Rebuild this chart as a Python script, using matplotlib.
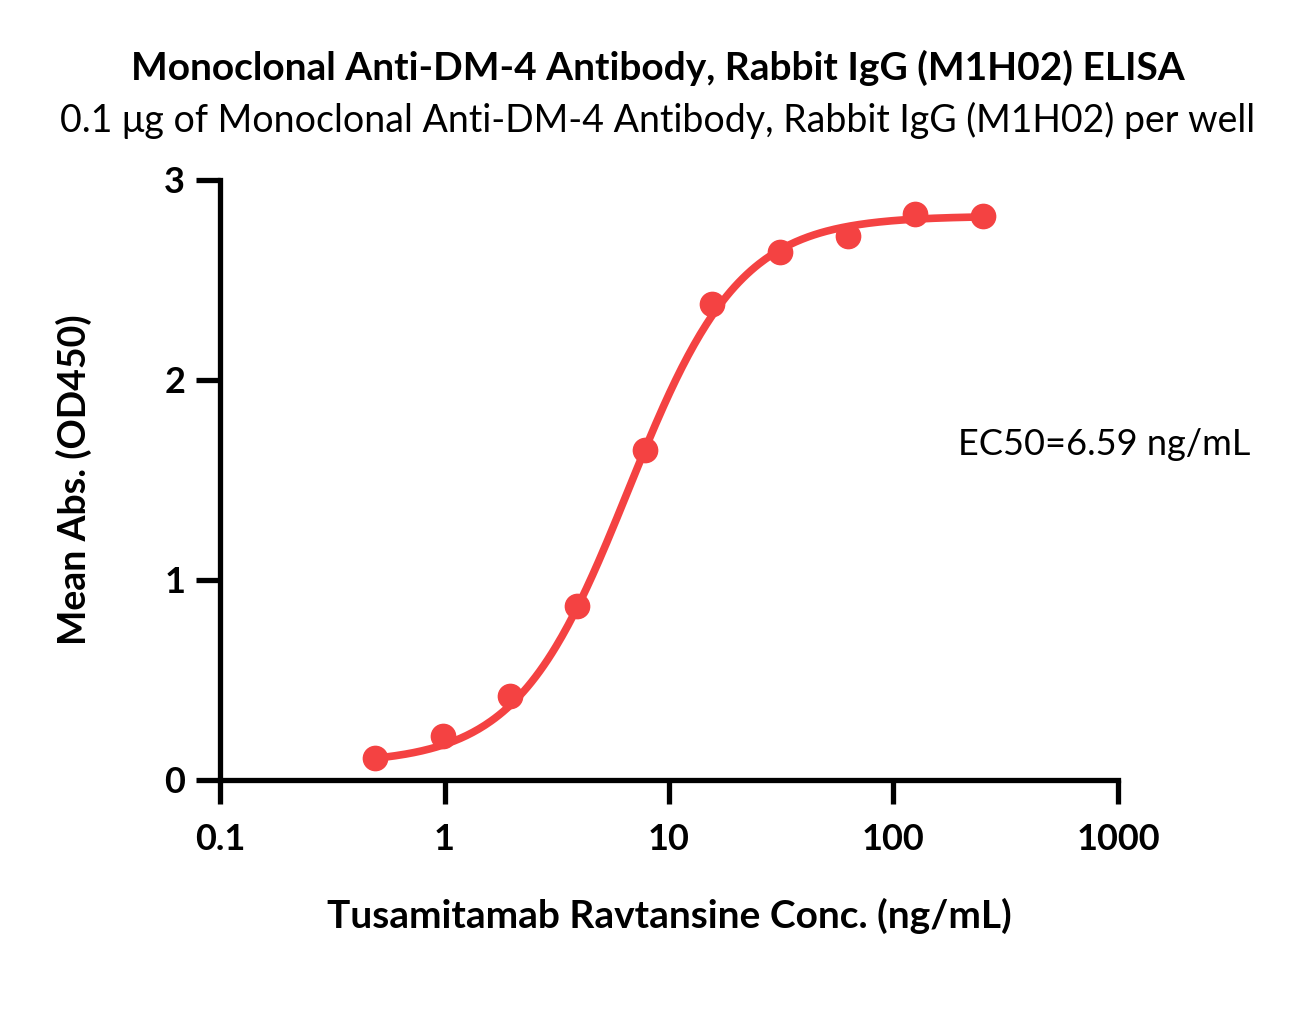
import numpy as np
import matplotlib

matplotlib.use("Agg")
import matplotlib.pyplot as plt

# measured points (ng/mL, OD450)
conc = [0.49, 0.98, 1.95, 3.9, 7.8, 15.6, 31.25, 62.5, 125, 250]
od450 = [0.11, 0.22, 0.42, 0.87, 1.65, 2.38, 2.64, 2.72, 2.83, 2.82]

# 4PL fit parameters
fit_bottom = 0.08
fit_top = 2.82
fit_ec50 = 6.59
fit_hill = 1.75

x_ticks = [0.1, 1, 10, 100, 1000]
x_labels = ["0.1", "1", "10", "100", "1000"]
y_ticks = [0, 1, 2, 3]

RED = "#F44242"
plt.rcParams["font.family"] = ["Lato", "DejaVu Sans"]

fig = plt.figure(figsize=(13.16, 10.35), dpi=100)
ax = fig.add_axes([0.1672, 0.2464, 0.6823, 0.5797])

xs = np.logspace(np.log10(conc[0]), np.log10(conc[-1]), 300)
ys = fit_bottom + (fit_top - fit_bottom) / (1 + (fit_ec50 / xs) ** fit_hill)
ax.plot(xs, ys, color=RED, lw=5.5, solid_capstyle="round", zorder=3)
ax.plot(conc, od450, "o", color=RED, ms=17.5, zorder=4, clip_on=False)

ax.set_xscale("log")
ax.set_xlim(0.1, 1000)
ax.set_ylim(0, 3)
ax.set_xticks(x_ticks)
ax.set_xticklabels(x_labels)
ax.xaxis.set_minor_locator(matplotlib.ticker.NullLocator())
ax.set_yticks(y_ticks)

for side in ("top", "right"):
    ax.spines[side].set_visible(False)
for side in ("left", "bottom"):
    ax.spines[side].set_linewidth(3.8)
ax.tick_params(width=3.8, length=17, direction="out", labelsize=26)
ax.tick_params(axis="x", pad=14)
ax.tick_params(axis="y", pad=8)
for lab in ax.get_xticklabels() + ax.get_yticklabels():
    lab.set_fontweight("bold")

ax.set_xlabel("Tusamitamab Ravtansine Conc. (ng/mL)", fontsize=28, fontweight="bold", labelpad=30)
ax.set_ylabel("Mean Abs. (OD450)", fontsize=27, fontweight="bold", labelpad=52)

ax.text(870, 1.675, "EC50=6.59 ng/mL", fontsize=26, ha="center", va="center",
        transform=ax.transData)

fig.text(0.5, 0.934, "Monoclonal Anti-DM-4 Antibody, Rabbit IgG (M1H02) ELISA",
         ha="center", va="center", fontsize=28, fontweight="bold")
fig.text(0.5, 0.884, "0.1 μg of Monoclonal Anti-DM-4 Antibody, Rabbit IgG (M1H02) per well",
         ha="center", va="center", fontsize=27)

fig.savefig("out.png", dpi=100)
